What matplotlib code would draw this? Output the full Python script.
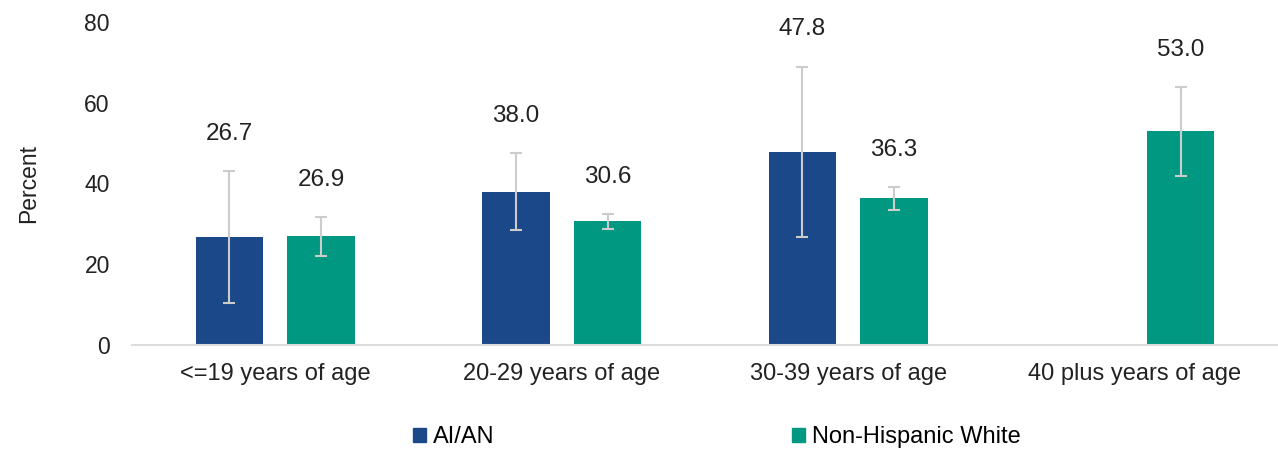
import numpy as np
import matplotlib.pyplot as plt
from matplotlib.patches import Patch

plt.rcParams['font.family'] = ['Liberation Sans', 'DejaVu Sans']

# data
categories = ["<=19 years of age", "20-29 years of age", "30-39 years of age", "40 plus years of age"]
aian = [26.7, 38.0, 47.8, np.nan]
aian_lo = [10.4, 28.5, 26.7, np.nan]
aian_hi = [43.1, 47.5, 68.9, np.nan]
nhw = [26.9, 30.6, 36.3, 53.0]
nhw_lo = [22.0, 28.7, 33.4, 41.9]
nhw_hi = [31.7, 32.4, 39.1, 63.9]

blue = "#1B4889"
green = "#009881"
err_col = "#CCCCCC"

fig = plt.figure(figsize=(12.78, 4.5), dpi=100)
ax = fig.add_axes([132/1278, 1 - 345/450, 1146/1278, 323/450])

x = np.arange(len(categories))
w = 0.235
off = 0.16

def draw(xpos, vals, lo, hi, col):
    for xi, v, l, h in zip(xpos, vals, lo, hi):
        if np.isnan(v):
            continue
        ax.bar(xi, v, width=w, color=col, zorder=2)
        ax.errorbar(xi, v, yerr=[[v - l], [h - v]], fmt="none", ecolor=err_col,
                    elinewidth=1.5, capsize=4.5, capthick=1.5, zorder=3)
        ax.annotate("%.1f" % v, (xi, h), xytext=(0, 19), textcoords="offset points",
                    ha="center", va="bottom", fontsize=17.5, color="#222222")

draw(x - off, aian, aian_lo, aian_hi, blue)
draw(x + off, nhw, nhw_lo, nhw_hi, green)

ax.set_xlim(-0.5, 3.5)
ax.set_ylim(0, 80)
ax.set_yticks([0, 20, 40, 60, 80])
ax.set_xticks(x)
ax.set_xticklabels(categories, fontsize=17, color="#222222")
ax.tick_params(axis="y", labelsize=16.5, colors="#222222", length=0, pad=16)
ax.tick_params(axis="x", length=0, pad=13)
for s in ["top", "right", "left"]:
    ax.spines[s].set_visible(False)
ax.spines["bottom"].set_color("#DDDDDD")
ax.spines["bottom"].set_linewidth(1.5)
ax.set_ylabel("Percent", fontsize=16.5, color="#222222", labelpad=32)

handles = [Patch(color=blue, label="AI/AN"), Patch(color=green, label="Non-Hispanic White")]
fig.legend(handles=handles, loc="center", bbox_to_anchor=(717/1278, 1 - 437/450), ncol=2,
           frameon=False, fontsize=17, handlelength=0.55, handleheight=0.55,
           handletextpad=0.3, columnspacing=12.6)

fig.savefig("out.png", dpi=100)
